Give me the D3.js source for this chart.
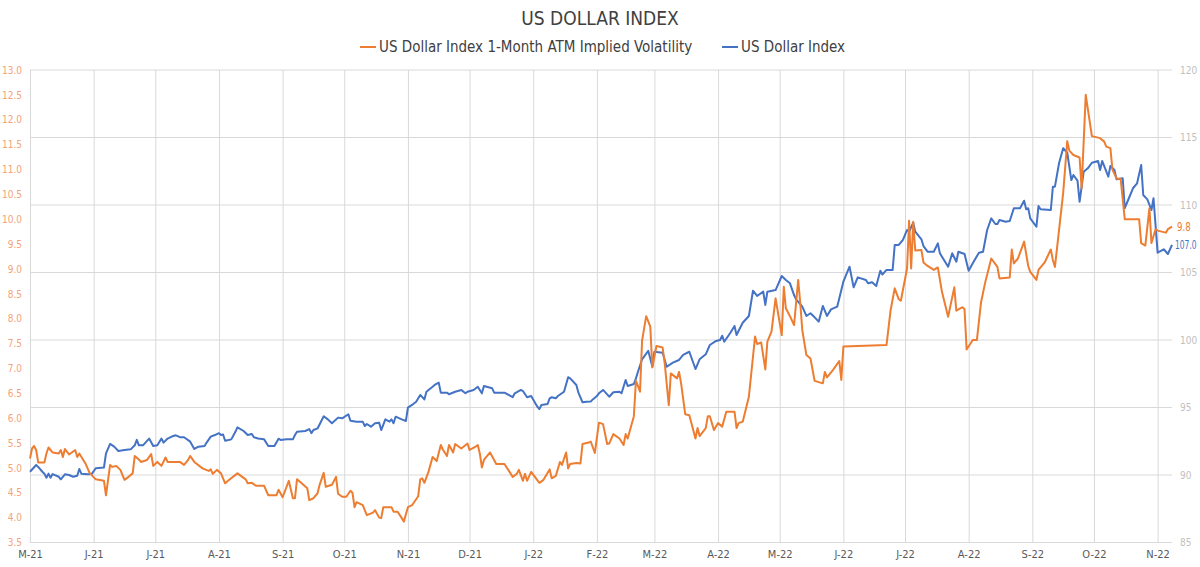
<!DOCTYPE html>
<html>
<head>
<meta charset="utf-8">
<script src="https://cdn.jsdelivr.net/npm/d3@7"></script>
<style>
  body { margin: 0; background: #fff; }
  svg text { font-family: "Liberation Sans Narrow", "DejaVu Sans Condensed", Roboto, sans-serif; }
</style>
</head>
<body>
<div id="chart"></div>
<script>
// 1-month ATM implied vol (left axis)
var volDates = ["2021-05-01","2021-05-02","2021-05-03","2021-05-04","2021-05-05","2021-05-08","2021-05-09","2021-05-10","2021-05-12","2021-05-15","2021-05-16","2021-05-17","2021-05-18","2021-05-20","2021-05-22","2021-05-23","2021-05-24","2021-05-25","2021-05-28","2021-05-30",
"2021-06-02","2021-06-06","2021-06-07","2021-06-09","2021-06-10","2021-06-12","2021-06-14","2021-06-16","2021-06-18","2021-06-20","2021-06-21","2021-06-23","2021-06-24","2021-06-27","2021-06-29","2021-06-30",
"2021-07-02","2021-07-04","2021-07-06","2021-07-07","2021-07-13","2021-07-15","2021-07-17","2021-07-18","2021-07-20","2021-07-24","2021-07-27","2021-07-28","2021-07-29","2021-07-31",
"2021-08-02","2021-08-04","2021-08-06","2021-08-10","2021-08-14","2021-08-15","2021-08-17","2021-08-19","2021-08-23","2021-08-25","2021-08-29","2021-08-30",
"2021-09-01","2021-09-04","2021-09-06","2021-09-07","2021-09-08","2021-09-10","2021-09-13","2021-09-14","2021-09-16","2021-09-18","2021-09-19","2021-09-21","2021-09-22","2021-09-25","2021-09-27","2021-09-28","2021-09-30",
"2021-10-02","2021-10-04","2021-10-05","2021-10-06","2021-10-07","2021-10-10","2021-10-12","2021-10-15","2021-10-16","2021-10-18","2021-10-19","2021-10-20","2021-10-24","2021-10-25","2021-10-27","2021-10-29","2021-10-30",
"2021-11-01","2021-11-03","2021-11-06","2021-11-07","2021-11-08","2021-11-09","2021-11-11","2021-11-13","2021-11-15","2021-11-17","2021-11-18","2021-11-20","2021-11-21","2021-11-23","2021-11-24","2021-11-27","2021-11-30",
"2021-12-01","2021-12-04","2021-12-05","2021-12-06","2021-12-07","2021-12-08","2021-12-11","2021-12-14","2021-12-18","2021-12-22","2021-12-24","2021-12-25","2021-12-27","2021-12-28","2021-12-29","2021-12-31",
"2022-01-04","2022-01-06","2022-01-09","2022-01-10","2022-01-12","2022-01-14","2022-01-15","2022-01-17","2022-01-18","2022-01-19","2022-01-22","2022-01-24","2022-01-25","2022-01-28","2022-01-29","2022-01-31",
"2022-02-02","2022-02-04","2022-02-06","2022-02-07","2022-02-09","2022-02-12","2022-02-14","2022-02-15","2022-02-16","2022-02-19","2022-02-20","2022-02-21","2022-02-22","2022-02-23","2022-02-25","2022-02-27","2022-02-28",
"2022-03-02","2022-03-05","2022-03-06","2022-03-08","2022-03-09","2022-03-12","2022-03-13","2022-03-14","2022-03-16","2022-03-18","2022-03-21","2022-03-22","2022-03-23","2022-03-26","2022-03-27","2022-03-28","2022-03-30",
"2022-04-01","2022-04-03","2022-04-05","2022-04-09","2022-04-10","2022-04-11","2022-04-13","2022-04-16","2022-04-19","2022-04-20","2022-04-22","2022-04-24","2022-04-25","2022-04-27","2022-04-29",
"2022-05-02","2022-05-03","2022-05-04","2022-05-06","2022-05-08","2022-05-10","2022-05-11","2022-05-12","2022-05-14","2022-05-16","2022-05-18","2022-05-22","2022-05-23","2022-05-24","2022-05-27","2022-05-30","2022-05-31",
"2022-06-01","2022-06-22","2022-06-24","2022-06-26","2022-06-28","2022-06-29",
"2022-07-02","2022-07-03","2022-07-04","2022-07-05","2022-07-06","2022-07-09","2022-07-10","2022-07-12","2022-07-15","2022-07-17","2022-07-19","2022-07-22","2022-07-25","2022-07-26","2022-07-29","2022-07-30","2022-07-31",
"2022-08-03","2022-08-05","2022-08-07","2022-08-09","2022-08-12","2022-08-15","2022-08-16","2022-08-21","2022-08-22","2022-08-23","2022-08-25","2022-08-28","2022-08-30","2022-08-31",
"2022-09-03","2022-09-04","2022-09-07","2022-09-10","2022-09-11","2022-09-12","2022-09-16","2022-09-18","2022-09-19","2022-09-21","2022-09-24","2022-09-25","2022-09-27","2022-09-30",
"2022-10-04","2022-10-06","2022-10-07","2022-10-09","2022-10-10","2022-10-12","2022-10-14","2022-10-16","2022-10-23","2022-10-24","2022-10-26","2022-10-28","2022-10-29","2022-10-31",
"2022-11-01","2022-11-05","2022-11-06","2022-11-08"];
var volValues = [5.19,5.39,5.44,5.36,5.11,5.11,5.29,5.41,5.31,5.29,5.36,5.22,5.38,5.27,5.33,5.36,5.22,5.29,5.09,4.90,
4.77,4.74,4.45,5.06,5.02,5.04,4.96,4.76,4.82,4.89,5.24,5.17,5.12,5.16,5.28,5.04,
5.12,5.04,5.21,5.12,5.12,5.06,5.16,5.24,5.12,4.99,4.94,4.97,4.88,4.96,
4.89,4.69,4.76,4.89,4.77,4.69,4.70,4.64,4.64,4.45,4.45,4.56,
4.41,4.74,4.39,4.39,4.77,4.70,4.59,4.35,4.39,4.49,4.66,4.90,4.62,4.66,4.82,4.48,4.42,
4.42,4.54,4.50,4.21,4.31,4.25,4.05,4.10,4.15,4.00,3.99,4.21,4.21,4.12,4.12,3.99,3.92,
4.21,4.25,4.43,4.77,4.79,4.70,4.92,5.22,5.14,5.46,5.37,5.24,5.46,5.31,5.48,5.39,5.49,
5.36,5.43,5.46,5.29,5.01,5.16,5.31,5.08,5.08,4.82,4.88,4.96,4.74,4.88,4.74,4.92,
4.70,4.76,4.97,4.79,4.84,5.12,5.06,5.31,4.99,5.08,5.10,5.09,5.48,5.51,5.53,5.30,
5.91,5.88,5.48,5.49,5.68,5.59,5.46,5.68,5.59,6.04,6.75,6.65,6.53,7.56,8.05,7.84,7.02,
7.45,7.42,7.11,6.26,6.90,6.80,6.93,6.70,6.08,6.06,5.59,5.80,5.64,5.80,6.04,6.04,5.76,
5.90,5.83,6.13,6.13,5.80,5.90,5.93,6.43,7.64,7.49,7.52,6.98,7.54,7.74,8.41,
7.67,8.64,8.21,8.05,7.87,8.78,8.32,7.77,7.27,7.20,6.75,6.70,6.93,6.82,6.97,7.15,6.77,
7.44,7.47,8.17,8.61,8.39,8.36,
9.01,9.97,9.01,9.95,9.37,9.38,9.13,9.06,8.98,9.03,8.54,8.04,8.63,8.16,8.23,8.19,7.38,
7.57,7.57,8.32,8.72,9.21,9.04,8.81,8.83,9.39,9.11,9.21,9.55,9.06,8.94,
8.78,8.98,9.13,9.39,9.18,9.04,10.52,11.57,11.38,11.29,11.24,10.62,12.50,11.67,
11.63,11.56,11.46,11.43,11.00,10.82,10.81,10.00,10.00,9.52,9.47,10.22,9.52,9.80,
9.77,9.73,9.80,9.85];

// US Dollar Index (right axis)
var dxyDates = ["2021-05-01","2021-05-04","2021-05-05","2021-05-07","2021-05-08","2021-05-09","2021-05-10","2021-05-11","2021-05-12","2021-05-15","2021-05-16","2021-05-18","2021-05-20","2021-05-22","2021-05-24","2021-05-25","2021-05-26","2021-05-29","2021-05-31",
"2021-06-02","2021-06-06","2021-06-07","2021-06-09","2021-06-11","2021-06-13","2021-06-16","2021-06-19","2021-06-21","2021-06-22","2021-06-23","2021-06-25","2021-06-28","2021-06-30",
"2021-07-02","2021-07-04","2021-07-05","2021-07-07","2021-07-09","2021-07-11","2021-07-13","2021-07-15","2021-07-18","2021-07-20","2021-07-22","2021-07-25","2021-07-26","2021-07-28","2021-07-30",
"2021-08-01","2021-08-02","2021-08-03","2021-08-04","2021-08-07","2021-08-09","2021-08-10","2021-08-13","2021-08-15","2021-08-17","2021-08-18","2021-08-20","2021-08-23","2021-08-25","2021-08-28","2021-08-30","2021-08-31",
"2021-09-03","2021-09-06","2021-09-07","2021-09-08","2021-09-12","2021-09-14","2021-09-15","2021-09-16","2021-09-18","2021-09-21","2021-09-23","2021-09-25","2021-09-28","2021-09-30",
"2021-10-03","2021-10-04","2021-10-07","2021-10-10","2021-10-11","2021-10-12","2021-10-14","2021-10-16","2021-10-18","2021-10-19","2021-10-21","2021-10-23","2021-10-24","2021-10-25","2021-10-26","2021-10-29","2021-10-31",
"2021-11-01","2021-11-03","2021-11-05","2021-11-07","2021-11-09","2021-11-10","2021-11-13","2021-11-14","2021-11-16","2021-11-17","2021-11-20","2021-11-21","2021-11-24","2021-11-27","2021-11-29","2021-11-30",
"2021-12-03","2021-12-05","2021-12-07","2021-12-08","2021-12-12","2021-12-13","2021-12-18","2021-12-20","2021-12-22","2021-12-23","2021-12-26","2021-12-27","2021-12-29","2021-12-31",
"2022-01-03","2022-01-04","2022-01-05","2022-01-08","2022-01-09","2022-01-10","2022-01-12","2022-01-13","2022-01-16","2022-01-18","2022-01-19","2022-01-22","2022-01-23","2022-01-25","2022-01-27","2022-01-29","2022-01-30",
"2022-02-01","2022-02-02","2022-02-04","2022-02-07","2022-02-09","2022-02-12","2022-02-13","2022-02-15","2022-02-16","2022-02-19","2022-02-20","2022-02-21","2022-02-23","2022-02-26","2022-02-28",
"2022-03-01","2022-03-05","2022-03-07","2022-03-10","2022-03-13","2022-03-15","2022-03-18","2022-03-21","2022-03-23","2022-03-26","2022-03-28","2022-03-31",
"2022-04-02","2022-04-03","2022-04-04","2022-04-07","2022-04-09","2022-04-10","2022-04-13","2022-04-16","2022-04-18","2022-04-20","2022-04-23","2022-04-24","2022-04-25","2022-04-29",
"2022-05-02","2022-05-04","2022-05-06","2022-05-08","2022-05-09","2022-05-12","2022-05-14","2022-05-16","2022-05-18","2022-05-20","2022-05-22","2022-05-24","2022-05-26","2022-05-29",
"2022-06-01","2022-06-04","2022-06-06","2022-06-08","2022-06-12","2022-06-13","2022-06-15","2022-06-17","2022-06-19","2022-06-20","2022-06-22","2022-06-25","2022-06-26","2022-06-28","2022-06-30",
"2022-07-02","2022-07-03","2022-07-05","2022-07-06","2022-07-09","2022-07-10","2022-07-12","2022-07-15","2022-07-17","2022-07-18","2022-07-22","2022-07-24","2022-07-26","2022-07-27","2022-07-30",
"2022-08-01","2022-08-03","2022-08-06","2022-08-08","2022-08-10","2022-08-12","2022-08-14","2022-08-15","2022-08-16","2022-08-19","2022-08-21","2022-08-23","2022-08-26","2022-08-28","2022-08-29","2022-08-30","2022-08-31",
"2022-09-03","2022-09-04","2022-09-05","2022-09-10","2022-09-11","2022-09-12","2022-09-14","2022-09-16","2022-09-18","2022-09-20","2022-09-21","2022-09-23","2022-09-24","2022-09-26","2022-09-28","2022-09-30",
"2022-10-03","2022-10-04","2022-10-05","2022-10-08","2022-10-09","2022-10-11","2022-10-12","2022-10-15","2022-10-16","2022-10-18","2022-10-20","2022-10-22","2022-10-24","2022-10-25","2022-10-27","2022-10-29","2022-10-30",
"2022-11-01","2022-11-04","2022-11-06","2022-11-08"];
var dxyValues = [90.24,90.74,90.6,90.24,90.1,89.8,90.1,89.8,90.07,89.87,89.68,90.05,90.0,89.87,89.95,90.44,90.1,90.05,90.07,
90.5,90.55,91.6,92.3,92.1,91.78,91.85,91.9,92.2,92.6,92.2,92.2,92.7,92.15,
92.2,92.7,92.4,92.7,92.85,92.94,92.8,92.8,92.47,91.93,92.1,92.15,92.4,92.84,92.96,
93.1,92.96,93.0,92.54,92.64,93.2,93.53,93.26,92.96,93.04,92.8,92.7,92.64,92.15,92.15,92.69,92.6,
92.64,92.64,92.96,93.2,93.26,93.4,93.1,93.33,93.45,94.35,94.12,93.83,94.25,94.2,
94.5,94.02,93.95,93.95,93.63,93.78,93.58,93.83,93.87,93.33,94.12,93.95,94.12,93.83,94.32,94.12,94.0,
94.99,95.19,95.43,95.93,95.6,96.17,96.54,96.67,96.84,96.1,96.1,95.98,96.17,96.3,96.05,96.17,
96.3,96.54,96.05,96.59,96.42,96.1,96.1,95.93,95.76,96.05,96.3,96.22,95.76,95.85,
95.06,94.89,95.19,95.26,95.68,95.76,95.68,95.85,96.17,97.24,97.16,96.67,96.1,95.39,95.43,95.45,95.6,
95.85,96.05,96.3,95.8,96.13,96.17,96.05,97.04,96.59,96.74,97.16,97.65,98.57,99.2,98.02,
99.13,99.06,98.02,98.32,98.52,98.89,99.13,97.85,98.57,98.94,99.63,99.93,
100.0,100.32,99.87,100.54,101.04,100.37,101.28,101.78,103.65,103.26,103.58,102.6,103.58,103.7,
104.74,104.44,104.2,103.33,103.01,102.47,101.78,101.98,101.68,101.36,102.52,101.78,102.27,102.47,
104.32,105.43,103.9,104.64,104.44,104.2,104.28,104.0,105.13,104.85,105.19,105.19,107.04,107.04,107.41,
108.15,108.02,108.69,108.02,107.46,106.96,106.54,106.54,107.16,106.42,105.43,106.42,105.8,106.54,106.37,
105.13,105.68,106.47,106.54,108.15,109.01,108.59,108.59,108.89,108.76,108.81,109.76,109.76,110.32,109.68,109.76,109.01,
108.39,109.93,109.68,109.63,111.36,111.36,113.09,114.2,113.87,111.85,112.22,111.8,110.24,112.47,112.72,113.13,
113.26,112.59,113.26,112.1,112.89,112.59,111.9,111.98,109.76,110.5,111.24,111.61,112.96,110.74,110.42,109.63,110.5,
106.47,106.72,106.37,107.04];

var volTicks = [3.5,4.0,4.5,5.0,5.5,6.0,6.5,7.0,7.5,8.0,8.5,9.0,9.5,10.0,10.5,11.0,11.5,12.0,12.5,13.0];
var dxyTicks = [85,90,95,100,105,110,115,120];
var seriesNames = ["US Dollar Index 1-Month ATM Implied Volatility","US Dollar Index"];

class dollarchart {
  constructor(parent){
    this.parent = parent
    this.width = 1200
    this.height = 567
    this.left = 30
    this.right = 1172
    this.top = 70
    this.bottom = 542.5
    this.orange = "#ED7D31"
    this.blue = "#4472C4"
    this.parse = d3.timeParse("%Y-%m-%d")
    this.draw()
  }
  draw(){
    this.svg = this.parent.append("svg")
                  .attr("width", this.width)
                  .attr("height", this.height)

    this.x = d3.scaleTime()
                  .domain([this.parse("2021-05-01"), this.parse("2022-11-08")])
                  .range([this.left, this.right])
    this.yl = d3.scaleLinear().domain([3.5, 13]).range([this.bottom, this.top])
    this.yr = d3.scaleLinear().domain([85, 120]).range([this.bottom, this.top])

    var months = d3.timeMonth.range(this.parse("2021-05-01"), this.parse("2022-11-02"))
    var fmt = d3.timeFormat("%b"), fy = d3.timeFormat("%y")

    // horizontal grid (right axis)
    this.svg.append("g")
        .attr("transform", "translate(" + this.right + ",0)")
        .call(d3.axisRight(this.yr).tickValues(dxyTicks).tickSize(0).tickPadding(8))
        .call(g => g.select(".domain").remove())
        .call(g => g.selectAll("text").attr("fill", "#BFBFBF").attr("font-size", 10))
    this.svg.append("g")
        .selectAll("line").data(dxyTicks).join("line")
        .attr("x1", this.left).attr("x2", this.right)
        .attr("y1", d => this.yr(d)).attr("y2", d => this.yr(d))
        .attr("stroke", "#D9D9D9").attr("stroke-width", 1)

    // vertical month grid + x labels
    this.svg.append("g")
        .attr("transform", "translate(0," + this.bottom + ")")
        .call(d3.axisBottom(this.x).tickValues(months).tickSize(-(this.bottom - this.top)).tickPadding(8)
                .tickFormat(d => fmt(d)[0] + "-" + fy(d)))
        .call(g => g.select(".domain").remove())
        .call(g => g.selectAll("line").attr("stroke", "#D9D9D9"))
        .call(g => g.selectAll("text").attr("fill", "#595959").attr("font-size", 11))

    // left axis
    this.svg.append("g")
        .attr("transform", "translate(" + (this.left - 6) + ",0)")
        .call(d3.axisLeft(this.yl).tickValues(volTicks).tickSize(0).tickPadding(2).tickFormat(d3.format(".1f")))
        .call(g => g.select(".domain").remove())
        .call(g => g.selectAll("text").attr("fill", "#F4A27A").attr("font-size", 10))

    var volData = volDates.map((d, i) => [this.parse(d), volValues[i]])
    var dxyData = dxyDates.map((d, i) => [this.parse(d), dxyValues[i]])

    this.svg.append("path")
        .datum(dxyData)
        .attr("fill", "none").attr("stroke", this.blue).attr("stroke-width", 2)
        .attr("stroke-linejoin", "round")
        .attr("d", d3.line().x(d => this.x(d[0])).y(d => this.yr(d[1])))
    this.svg.append("path")
        .datum(volData)
        .attr("fill", "none").attr("stroke", this.orange).attr("stroke-width", 2)
        .attr("stroke-linejoin", "round")
        .attr("d", d3.line().x(d => this.x(d[0])).y(d => this.yl(d[1])))

    // end labels, squeezed horizontally so 107.0 stays on the page
    var lv = volData[volData.length - 1], ld = dxyData[dxyData.length - 1]
    this.svg.append("g")
        .attr("transform", "translate(" + (this.x(lv[0]) + 5) + "," + this.yl(lv[1]) + ") scale(0.8,1)")
      .append("text")
        .attr("dy", "0.35em").attr("fill", this.orange).attr("font-size", 12)
        .text(d3.format(".1f")(lv[1]))
    this.svg.append("g")
        .attr("transform", "translate(" + (this.x(ld[0]) + 3) + "," + this.yr(ld[1]) + ") scale(0.7,1)")
      .append("text")
        .attr("dy", "0.35em").attr("fill", this.blue).attr("font-size", 12)
        .text(d3.format(".1f")(ld[1]))

    // title + legend
    this.svg.append("text")
        .attr("x", 600).attr("y", 25).attr("text-anchor", "middle")
        .attr("fill", "#404040").attr("font-size", 19).text("US DOLLAR INDEX")
    var leg = this.svg.append("g")
    var items = [{name: seriesNames[0], color: this.orange, x: 360}, {name: seriesNames[1], color: this.blue, x: 722}]
    items.forEach(it => {
      leg.append("line").attr("x1", it.x).attr("x2", it.x + 16).attr("y1", 47).attr("y2", 47)
          .attr("stroke", it.color).attr("stroke-width", 2)
      leg.append("text").attr("x", it.x + 19).attr("y", 47).attr("dy", "0.35em")
          .attr("fill", "#404040").attr("font-size", 15).text(it.name)
    })
  }
};

var chart = new dollarchart(d3.select("#chart"))
</script>
</body>
</html>
